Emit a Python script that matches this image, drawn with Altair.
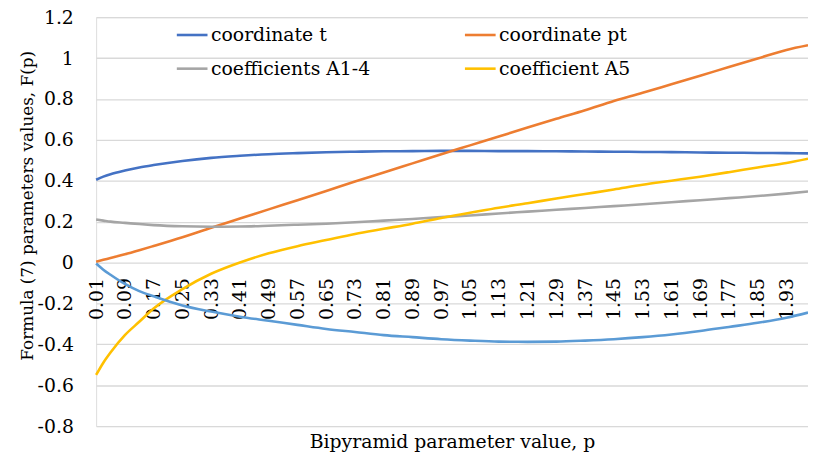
import altair as alt
import pandas as pd

# Bipyramid parameter p (category positions)
p_values = [0.01, 0.03, 0.05, 0.09, 0.13, 0.17, 0.25, 0.33, 0.41, 0.49, 0.57, 0.65,
            0.73, 0.81, 0.89, 0.97, 1.05, 1.13, 1.21, 1.29, 1.37, 1.45, 1.53, 1.61,
            1.69, 1.77, 1.85, 1.93, 1.99]

coord_t = [0.405, 0.42, 0.432, 0.45, 0.465, 0.477, 0.497, 0.512, 0.522, 0.53, 0.535, 0.539,
           0.542, 0.544, 0.545, 0.546, 0.546, 0.545, 0.545, 0.544, 0.543, 0.542, 0.541, 0.54,
           0.538, 0.537, 0.536, 0.535, 0.534]

coord_pt = [0.004, 0.013, 0.022, 0.04, 0.06, 0.081, 0.124, 0.17, 0.215, 0.26, 0.305, 0.35,
            0.396, 0.44, 0.485, 0.53, 0.573, 0.616, 0.66, 0.703, 0.745, 0.79, 0.83, 0.872,
            0.914, 0.956, 0.998, 1.04, 1.063]

coef_a14 = [0.21, 0.205, 0.2, 0.194, 0.188, 0.183, 0.177, 0.175, 0.176, 0.18, 0.185, 0.19,
            0.197, 0.205, 0.213, 0.222, 0.23, 0.24, 0.249, 0.258, 0.267, 0.276, 0.285, 0.295,
            0.305, 0.315, 0.325, 0.337, 0.347]

coef_a5 = [-0.55, -0.49, -0.44, -0.355, -0.29, -0.225, -0.13, -0.055, 0.0, 0.045, 0.08, 0.11,
           0.14, 0.165, 0.19, 0.218, 0.243, 0.268, 0.29, 0.313, 0.335, 0.357, 0.38, 0.4,
           0.42, 0.442, 0.465, 0.487, 0.508]

# unlabelled light-blue series
extra_series = [-0.005, -0.035, -0.06, -0.105, -0.14, -0.165, -0.21, -0.24, -0.265, -0.285,
                -0.305, -0.325, -0.34, -0.355, -0.365, -0.375, -0.382, -0.387, -0.388, -0.387,
                -0.382, -0.375, -0.365, -0.352, -0.335, -0.315, -0.295, -0.27, -0.245]

series_names = ["coordinate t", "coordinate pt", "coefficients A1-4", "coefficient A5"]
series_colors = ["#4472C4", "#ED7D31", "#A5A5A5", "#FFC000"]
extra_color = "#5B9BD5"
# legend fills column by column: order so rows read t | pt, A1-4 | A5
legend_order = ["coordinate t", "coefficients A1-4", "coordinate pt", "coefficient A5"]
legend_colors = [series_colors[series_names.index(n)] for n in legend_order]

x_tick_labels = [0.01, 0.09, 0.17, 0.25, 0.33, 0.41, 0.49, 0.57, 0.65, 0.73, 0.81, 0.89,
                 0.97, 1.05, 1.13, 1.21, 1.29, 1.37, 1.45, 1.53, 1.61, 1.69, 1.77, 1.85, 1.93]
y_tick_labels = [-0.8, -0.6, -0.4, -0.2, 0, 0.2, 0.4, 0.6, 0.8, 1, 1.2]

rows = []
for name, vals in zip(series_names, [coord_t, coord_pt, coef_a14, coef_a5]):
    for i, (p, v) in enumerate(zip(p_values, vals)):
        rows.append({"p": p, "value": v, "series": name, "order": i})
df = pd.DataFrame(rows)
df_extra = pd.DataFrame({"p": p_values, "value": extra_series})

FONT = "DejaVu Serif"

x_scale = alt.Scale(domain=[0.01, 1.99], nice=False, zero=False)
y_scale = alt.Scale(domain=[-0.8, 1.2], nice=False)

x_axis = alt.Axis(
    values=x_tick_labels, labelExpr="toString(datum.value)", labelAngle=-90,
    labelFontSize=19, labelColor="#000000", labelPadding=15,
    ticks=False, tickSize=0, domain=False, grid=False, offset=-165,
    title="Bipyramid parameter value, p", titleFontSize=19,
    titleFontWeight="normal", titleColor="#000000", titleY=187,
    titleBaseline="alphabetic", labelOverlap=False, labelFlush=False,
    labelSeparation=0,
)
y_axis = alt.Axis(
    values=y_tick_labels, labelExpr="toString(datum.value)",
    labelFontSize=19, labelColor="#000000", labelPadding=23,
    ticks=False, tickSize=0, domain=False, grid=True, gridColor="#D9D9D9", gridWidth=1.3,
    title="Formula (7) parameters values, F(p)", titleFontSize=17,
    titleFontWeight="normal", titleColor="#000000", titleX=-69, titleY=190,
    titleAngle=270, titleBaseline="middle", titleAlign="center", labelOverlap=False,
)

lines = alt.Chart(df).mark_line(strokeWidth=2.6, interpolate="monotone").encode(
    x=alt.X("p:Q", scale=x_scale, axis=x_axis),
    y=alt.Y("value:Q", scale=y_scale, axis=y_axis),
    color=alt.Color(
        "series:N",
        scale=alt.Scale(domain=legend_order, range=legend_colors),
        legend=alt.Legend(
            title=None, orient="none", legendX=80, legendY=1, columns=2,
            symbolType="stroke", symbolSize=961, symbolStrokeWidth=2.6,
            labelFontSize=19, labelColor="#000000", labelOffset=2,
            columnPadding=90, rowPadding=7, padding=0, labelLimit=400,
        ),
    ),
    order="order:Q",
)

extra = alt.Chart(df_extra).mark_line(strokeWidth=2.6, interpolate="monotone", color=extra_color).encode(
    x=alt.X("p:Q", scale=x_scale, axis=x_axis),
    y=alt.Y("value:Q", scale=y_scale, axis=y_axis),
)

chart = alt.layer(lines, extra).properties(
    width=719, height=413,
    autosize=alt.AutoSizeParams(type="none"),
    padding={"left": 89, "top": 7, "right": 0, "bottom": 34},
).configure_view(stroke=None).configure(background="#FFFFFF", font=FONT).configure_axis(
    labelOverlap=False, labelFont=FONT, titleFont=FONT
).configure_legend(labelFont=FONT)

chart.save("out.html", embed_options={"renderer": "svg", "actions": False})
